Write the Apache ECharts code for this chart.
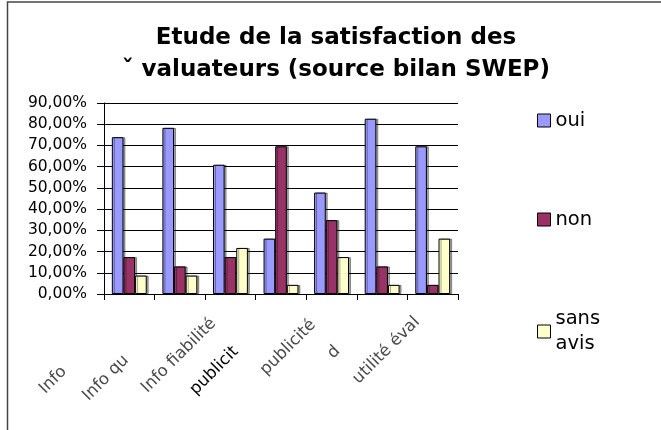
<!DOCTYPE html>
<html>
<head>
<meta charset="utf-8">
<script src="https://cdn.jsdelivr.net/npm/echarts@6/dist/echarts.min.js"></script>
<style>
html,body{margin:0;padding:0;background:#fff;}
#c{width:661px;height:430px;}
</style>
</head>
<body>
<div id="c"></div>
<script>
// ---- data ----
const categories = ["Info", "Info qu", "Info fiabilité", "publicit", "publicité", "d", "utilité éval"];
const seriesNames = ["oui", "non", "sans avis"];
const oui = [73.9, 78.3, 60.9, 26.1, 47.8, 82.6, 69.6];
const non = [17.4, 13.0, 17.4, 69.6, 34.8, 13.0, 4.3];
const sansAvis = [8.7, 8.7, 21.7, 4.3, 17.4, 4.3, 26.1];
const yTicks = [0, 10, 20, 30, 40, 50, 60, 70, 80, 90];
const titleText = "Etude de la satisfaction des\nˇ valuateurs (source bilan SWEP)";

// ---- styling ----
const colors = ["#9999FF", "#993366", "#FFFFCC"];
const labelGap = [92, 76, 24, 64, 26, 63, 22];
const FONT = "'DejaVu Sans', Verdana, sans-serif";
const LABEL_SIZE = 16.5;

const rich = {
  t: { fontFamily: FONT, fontSize: LABEL_SIZE, color: "#4a4a4a" },
  tb: { fontFamily: FONT, fontSize: LABEL_SIZE, color: "#000" }
};
labelGap.forEach((w, i) => { rich["g" + i] = { width: w, fontSize: LABEL_SIZE }; });

const chart = echarts.init(document.getElementById("c"), null, { renderer: "canvas" });

function barSeries(name, data, color) {
  return {
    name: name,
    type: "bar",
    data: data,
    barGap: "0%",
    barCategoryGap: "31%",
    itemStyle: {
      color: color,
      borderColor: "#000",
      borderWidth: 1,
      shadowColor: "rgba(0,0,0,0.35)",
      shadowOffsetX: 2,
      shadowOffsetY: 0,
      shadowBlur: 0
    },
    emphasis: { disabled: true },
    animation: false
  };
}

const legendBase = {
  orient: "vertical",
  left: 537,
  itemWidth: 13,
  itemHeight: 13,
  icon: "rect",
  padding: 0,
  itemStyle: { borderColor: "#000", borderWidth: 1, shadowBlur: 0, shadowOffsetX: 0, shadowOffsetY: 0, shadowColor: "transparent" },
  textStyle: { fontFamily: FONT, fontSize: 19.5, color: "#000", lineHeight: 25 },
  selectedMode: false
};

chart.setOption({
  animation: false,
  backgroundColor: "#fff",
  color: colors,
  title: {
    text: titleText,
    left: 336,
    textAlign: "center",
    top: 22,
    padding: 0,
    textStyle: { fontFamily: FONT, fontSize: 23, fontWeight: "bold", color: "#000", lineHeight: 32 }
  },
  graphic: [{
    type: "polyline",
    shape: { points: [[7.5, 432], [7.5, 2], [663, 2]] },
    style: { stroke: "#444", lineWidth: 1.5, fill: null },
    silent: true
  }],
  legend: [
    Object.assign({}, legendBase, { data: [seriesNames[0]], top: 108 }),
    Object.assign({}, legendBase, { data: [seriesNames[1]], top: 207 }),
    Object.assign({}, legendBase, {
      data: [seriesNames[2]], top: 294,
      formatter: function (n) { return n.replace(" ", "\n"); },
      textStyle: Object.assign({}, legendBase.textStyle, { padding: [25, 0, 0, 0] })
    })
  ],
  grid: { left: 104, right: 203, top: 103, bottom: 136, outerBoundsMode: "none", containLabel: false },
  xAxis: {
    type: "category",
    data: categories,
    axisLine: { lineStyle: { color: "#000", width: 1 } },
    axisTick: { show: true, length: 6, lineStyle: { color: "#000" } },
    axisLabel: {
      rotate: 45,
      interval: 0,
      margin: 10,
      formatter: function (v) {
        const k = categories.indexOf(v);
        return "{" + (k === 3 ? "tb" : "t") + "|" + v + "}{g" + k + "|\u00a0}";
      },
      rich: rich
    },
    splitLine: { show: false }
  },
  yAxis: {
    type: "value",
    min: yTicks[0],
    max: yTicks[yTicks.length - 1],
    interval: yTicks[1] - yTicks[0],
    axisLine: { show: true, lineStyle: { color: "#000", width: 1 } },
    axisTick: { show: true, length: 7, lineStyle: { color: "#000" } },
    axisLabel: {
      margin: 17,
      fontFamily: FONT,
      fontSize: 15.5,
      color: "#000",
      formatter: function (v) { return v.toFixed(2).replace(".", ",") + "%"; }
    },
    splitLine: { show: true, lineStyle: { color: "#000", width: 1 } }
  },
  series: [
    barSeries(seriesNames[0], oui, colors[0]),
    barSeries(seriesNames[1], non, colors[1]),
    barSeries(seriesNames[2], sansAvis, colors[2])
  ]
});
</script>
</body>
</html>
